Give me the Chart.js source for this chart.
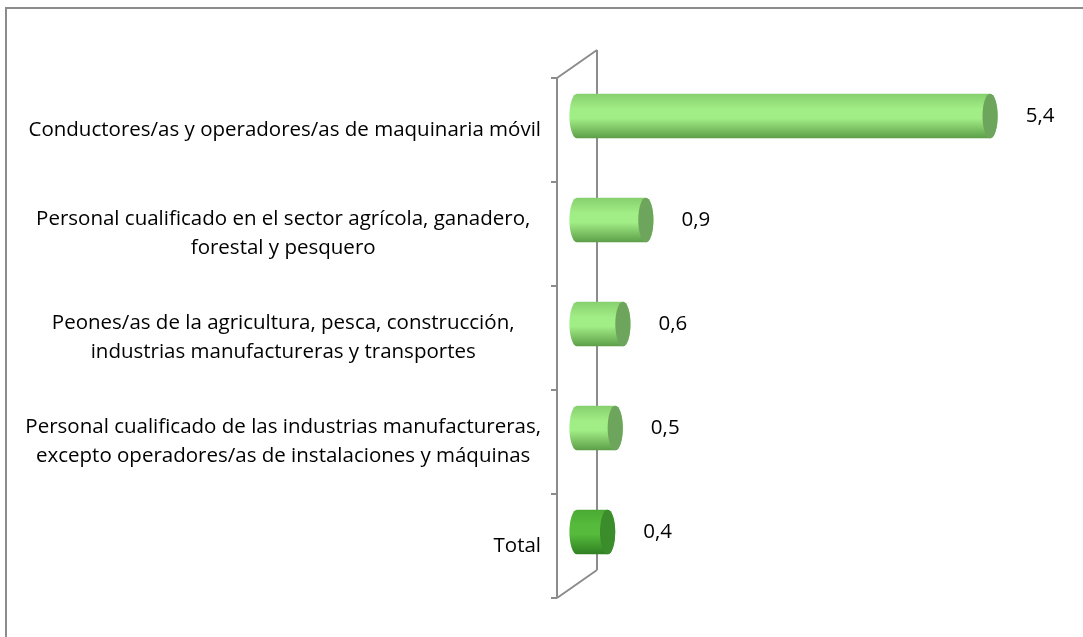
<!DOCTYPE html>
<html>
<head>
<meta charset="utf-8">
<script src="https://cdn.jsdelivr.net/npm/chart.js@4.4.0/dist/chart.umd.min.js"></script>
<style>
  html, body { margin: 0; padding: 0; background: #fff; }
  #wrap { position: relative; width: 1083px; height: 637px; }
  #frame {
    position: absolute; left: 5px; top: 7px; right: -10px; bottom: -10px;
    border-top: 2px solid #8c8c8c; border-left: 2px solid #8c8c8c;
  }
  canvas { position: absolute; left: 0; top: 0; }
</style>
</head>
<body>
<div id="wrap">
  <div id="frame"></div>
  <canvas id="chart" width="1083" height="637"></canvas>
</div>
<script>
  // Categories (top to bottom) and their values
  const categories = [
    "Conductores/as y operadores/as de maquinaria móvil",
    ["Personal cualificado en el sector agrícola, ganadero,", "forestal y pesquero"],
    ["Peones/as de la agricultura, pesca, construcción,", "industrias manufactureras y transportes"],
    ["Personal cualificado de las industrias manufactureras,", "excepto operadores/as de instalaciones y máquinas"],
    "Total"
  ];
  const values = [5.4, 0.9, 0.6, 0.5, 0.4];
  const xMax = 6;

  const FONT = '20.5px "Open Sans", Lato, sans-serif';
  const DEPTH_X = 20, DEPTH_Y = 14;
  const WALL = '#8c8c8c';

  // Pale green for occupations, darker green for the total
  const palette = {
    normal: { top: '#86cf6e', mid: '#a2ee86', bottom: '#5c9e48', cap: '#6da55c' },
    total:  { top: '#4aa933', mid: '#56bb3c', bottom: '#2f7f22', cap: '#3b8c2b' }
  };

  // Back wall, floor and side lines of the 3D frame (behind the bars)
  const wallPlugin = {
    id: 'walls',
    beforeDatasetsDraw(chart) {
      const { ctx, chartArea: a } = chart;
      const fx = a.left - DEPTH_X, bx = a.left + DEPTH_X;
      ctx.save();
      ctx.strokeStyle = WALL;
      ctx.lineWidth = 2;
      ctx.beginPath();
      ctx.moveTo(bx, a.top - DEPTH_Y);
      ctx.lineTo(bx, a.bottom - DEPTH_Y);
      ctx.moveTo(fx, a.top + DEPTH_Y);
      ctx.lineTo(bx, a.top - DEPTH_Y);
      ctx.moveTo(fx, a.bottom + DEPTH_Y);
      ctx.lineTo(bx, a.bottom - DEPTH_Y);
      ctx.moveTo(fx, a.top + DEPTH_Y);
      ctx.lineTo(fx, a.bottom + DEPTH_Y);
      // tick marks between categories
      const n = categories.length;
      const step = (a.bottom - a.top) / n;
      for (let i = 0; i <= n; i++) {
        const y = a.top + DEPTH_Y + i * step;
        ctx.moveTo(fx - 6, y);
        ctx.lineTo(fx, y);
      }
      ctx.stroke();
      ctx.restore();
    }
  };

  // Draw each bar as a cylinder using the bar element geometry
  const cylinderPlugin = {
    id: 'cylinders',
    afterDatasetsDraw(chart) {
      const { ctx } = chart;
      const meta = chart.getDatasetMeta(0);
      meta.data.forEach((bar, i) => {
        const p = i === values.length - 1 ? palette.total : palette.normal;
        const { x, y, base, height } = bar.getProps(['x', 'y', 'base', 'height'], true);
        const h = height / 2;
        const rx = height * 0.17;
        const g = ctx.createLinearGradient(0, y - h, 0, y + h);
        g.addColorStop(0, p.top);
        g.addColorStop(0.35, p.mid);
        g.addColorStop(0.55, p.mid);
        g.addColorStop(1, p.bottom);
        ctx.save();
        ctx.beginPath();
        ctx.moveTo(base, y - h);
        ctx.lineTo(x, y - h);
        ctx.ellipse(x, y, rx, h, 0, -Math.PI / 2, Math.PI / 2);
        ctx.lineTo(base, y + h);
        ctx.ellipse(base, y, rx, h, 0, Math.PI / 2, Math.PI * 1.5);
        ctx.closePath();
        ctx.fillStyle = g;
        ctx.fill();
        ctx.beginPath();
        ctx.ellipse(x, y, rx, h, 0, 0, Math.PI * 2);
        ctx.fillStyle = p.cap;
        ctx.fill();
        // value label
        ctx.fillStyle = '#000';
        ctx.font = FONT;
        ctx.textAlign = 'left';
        ctx.textBaseline = 'middle';
        const txt = values[i].toLocaleString('es-ES', { minimumFractionDigits: 1 });
        ctx.fillText(txt, x + rx + 28, y);
        ctx.restore();
      });
    }
  };

  // Category labels: single lines right aligned, wrapped ones centred as a block
  const labelPlugin = {
    id: 'catLabels',
    afterDraw(chart) {
      const { ctx, chartArea: a } = chart;
      const yScale = chart.scales.y;
      const right = a.left - 36;
      ctx.save();
      ctx.font = FONT;
      ctx.fillStyle = '#000';
      ctx.textBaseline = 'middle';
      let widest = 0;
      categories.forEach(c => [].concat(c).forEach(l => {
        widest = Math.max(widest, ctx.measureText(l).width);
      }));
      const lineH = 29;
      categories.forEach((c, i) => {
        const yc = yScale.getPixelForTick(i) + DEPTH_Y;
        if (Array.isArray(c)) {
          ctx.textAlign = 'center';
          c.forEach((l, k) => {
            ctx.fillText(l, right - widest / 2, yc + (k - (c.length - 1) / 2) * lineH);
          });
        } else {
          ctx.textAlign = 'right';
          ctx.fillText(c, right, yc);
        }
      });
      ctx.restore();
    }
  };

  new Chart(document.getElementById('chart'), {
    type: 'bar',
    data: {
      labels: categories,
      datasets: [{
        data: values,
        backgroundColor: 'rgba(0,0,0,0)',
        borderWidth: 0,
        barPercentage: 0.43,
        categoryPercentage: 1
      }]
    },
    options: {
      indexAxis: 'y',
      responsive: false,
      animation: false,
      layout: { padding: { left: 577, top: 64, bottom: 53, right: 47 } },
      plugins: {
        legend: { display: false },
        tooltip: { enabled: false }
      },
      scales: {
        x: { display: false, min: 0, max: xMax },
        y: { display: false }
      }
    },
    plugins: [wallPlugin, cylinderPlugin, labelPlugin]
  });
</script>
</body>
</html>
